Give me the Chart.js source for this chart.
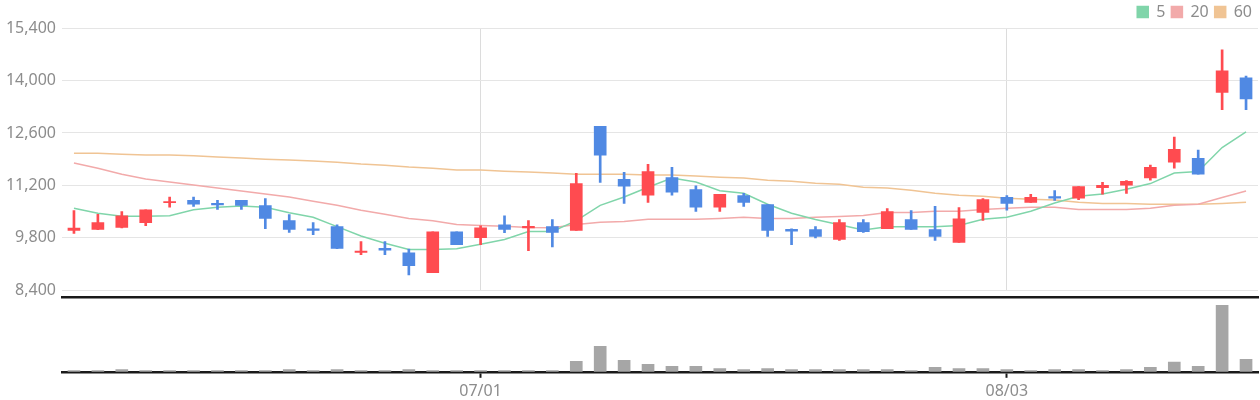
<!DOCTYPE html>
<html>
<head>
<meta charset="utf-8">
<script src="https://cdn.jsdelivr.net/npm/chart.js@4.4.1/dist/chart.umd.min.js"></script>
<style>
  body { margin: 0; background: #fff; overflow: hidden; }
  #wrap { position: relative; width: 1260px; height: 400px; overflow: hidden; }
  #price { position: absolute; left: 0; top: 0; }
  #volume { position: absolute; left: 0; top: 290px; }
</style>
</head>
<body>
<div id="wrap">
  <canvas id="price" width="1260" height="306"></canvas>
  <canvas id="volume" width="1260" height="115"></canvas>
</div>
<script>
// trading days shown on the chart (only 07/01 and 08/03 get a label)
const dates = [
  '06/08', '06/09', '06/10', '06/13', '06/14', '06/15', '06/16', '06/17', '06/20', '06/21',
  '06/22', '06/23', '06/24', '06/27', '06/28', '06/29', '06/30', '07/01', '07/04', '07/05',
  '07/06', '07/07', '07/08', '07/11', '07/12', '07/13', '07/14', '07/15', '07/18', '07/19',
  '07/20', '07/21', '07/22', '07/25', '07/26', '07/27', '07/28', '07/29', '08/02', '08/03',
  '08/04', '08/05', '08/08', '08/09', '08/10', '08/11', '08/12', '08/16', '08/17', '08/18'
];
const labelDays = ['07/01', '08/03'];

const opens = [
  10000, 10030, 10080, 10210, 10740, 10800, 10720, 10800, 10660, 10260,
  10040, 10100, 9410, 9520, 9400, 8870, 9960, 9810, 10150, 10070,
  10100, 10000, 12780, 11360, 10940, 11410, 11090, 10620, 10930, 10690,
  10030, 10020, 9760, 10210, 10050, 10290, 10020, 9680, 10480, 10880,
  10750, 10900, 10860, 11140, 11210, 11400, 11820, 11920, 13680, 14070
];
const closes = [
  10060, 10210, 10390, 10550, 10770, 10700, 10680, 10670, 10320, 10030,
  10000, 9520, 9450, 9470, 9060, 9960, 9620, 10070, 10030, 10110,
  9950, 11250, 12010, 11180, 11570, 11020, 10620, 10960, 10750, 10000,
  9980, 9840, 10210, 9970, 10500, 10030, 9840, 10310, 10820, 10720,
  10880, 10860, 11170, 11200, 11310, 11680, 12160, 11500, 14260, 13510
];
const highs = [
  10530, 10430, 10500, 10550, 10890, 10890, 10800, 10800, 10850, 10420,
  10210, 10150, 9700, 9700, 9500, 9960, 9960, 10120, 10390, 10260,
  10290, 11520, 12780, 11550, 11760, 11680, 11190, 10960, 10990, 10690,
  10040, 10100, 10290, 10290, 10580, 10530, 10640, 10610, 10850, 10930,
  10960, 11060, 11170, 11280, 11330, 11740, 12490, 12140, 14820, 14120
];
const lows = [
  9920, 10020, 10070, 10130, 10620, 10640, 10560, 10560, 10050, 9950,
  9890, 9510, 9350, 9350, 8810, 8870, 9620, 9620, 9940, 9460,
  9560, 10000, 11280, 10720, 10750, 10940, 10510, 10510, 10640, 9840,
  9620, 9800, 9730, 9950, 10050, 10030, 9730, 9680, 10270, 10540,
  10750, 10800, 10820, 10970, 10990, 11340, 11660, 11500, 13220, 13220
];

// moving averages as drawn on the chart
const ma5 = [
  10590, 10460, 10380, 10380, 10390, 10550, 10620, 10650, 10620, 10470,
  10350, 10100, 9850, 9660, 9490, 9490, 9510, 9630, 9760, 9970,
  9970, 10260, 10670, 10890, 11150, 11400, 11290, 11060, 10990, 10700,
  10460, 10290, 10150, 10010, 10100, 10100, 10100, 10130, 10300, 10350,
  10510, 10730, 10910, 10970, 11100, 11250, 11530, 11570, 12210, 12630
];
const ma20 = [
  11800, 11660, 11500, 11370, 11290, 11210, 11130, 11050, 10970, 10890,
  10780, 10670, 10540, 10430, 10320, 10260, 10160, 10130, 10110, 10080,
  10070, 10160, 10220, 10240, 10300, 10300, 10300, 10320, 10350, 10320,
  10320, 10350, 10370, 10400, 10480, 10480, 10510, 10510, 10560, 10590,
  10620, 10620, 10560, 10560, 10560, 10590, 10670, 10700, 10880, 11050
];
const ma60 = [
  12060, 12060, 12030, 12010, 12010, 11990, 11960, 11930, 11900, 11880,
  11850, 11820, 11770, 11740, 11690, 11660, 11610, 11610, 11580, 11560,
  11530, 11500, 11500, 11500, 11480, 11480, 11450, 11420, 11400, 11340,
  11310, 11260, 11230, 11150, 11130, 11070, 10990, 10940, 10910, 10860,
  10830, 10810, 10750, 10720, 10720, 10700, 10700, 10700, 10720, 10750
];

const volumes = [
  13000, 13000, 23000, 13000, 13000, 13000, 13000, 13000, 13000, 23000,
  13000, 23000, 13000, 13000, 23000, 13000, 13000, 13000, 13000, 13000,
  13000, 103000, 253000, 113000, 73000, 53000, 53000, 33000, 23000, 33000,
  23000, 23000, 23000, 23000, 23000, 13000, 43000, 33000, 33000, 23000,
  13000, 23000, 23000, 13000, 23000, 43000, 97000, 53000, 657000, 123000
];

const upColor = '#ff4b50';
const downColor = '#5089e3';
const gridColor = '#e5e5e5';
const textColor = '#8c8c8c';

Chart.defaults.font.family = "'Noto Sans', sans-serif";
Chart.defaults.font.size = 16;
Chart.defaults.color = textColor;

const candleColor = ctx => closes[ctx.dataIndex] >= opens[ctx.dataIndex] ? upColor : downColor;
const isLabelDay = i => labelDays.includes(dates[i]);

new Chart(document.getElementById('price'), {
  type: 'bar',
  data: {
    labels: dates,
    datasets: [
      {
        label: 'body',
        data: dates.map((d, i) => [opens[i], closes[i]]),
        backgroundColor: candleColor,
        barThickness: 12,
        grouped: false,
        order: 0
      },
      {
        label: 'wick',
        data: dates.map((d, i) => [lows[i], highs[i]]),
        backgroundColor: candleColor,
        barThickness: 2,
        grouped: false,
        order: 0
      },
      {
        type: 'line',
        label: '5',
        data: ma5,
        borderColor: '#80d5aa',
        backgroundColor: '#80d5aa',
        borderWidth: 1.5,
        pointRadius: 0,
        order: 1
      },
      {
        type: 'line',
        label: '20',
        data: ma20,
        borderColor: '#f2aaaa',
        backgroundColor: '#f2aaaa',
        borderWidth: 1.5,
        pointRadius: 0,
        order: 1
      },
      {
        type: 'line',
        label: '60',
        data: ma60,
        borderColor: '#f0c494',
        backgroundColor: '#f0c494',
        borderWidth: 1.5,
        pointRadius: 0,
        order: 1
      }
    ]
  },
  options: {
    responsive: false,
    animation: false,
    layout: { padding: { left: 0, right: 2, top: -2, bottom: 5 } },
    plugins: {
      tooltip: { enabled: false },
      legend: {
        position: 'top',
        align: 'end',
        maxHeight: 30,
        labels: {
          boxWidth: 11,
          boxHeight: 11,
          padding: 6,
          color: textColor,
          font: { size: 16 },
          filter: item => ['5', '20', '60'].includes(item.text)
        }
      }
    },
    scales: {
      x: {
        offset: true,
        grid: {
          offset: false,
          drawTicks: false,
          color: c => isLabelDay(c.index) ? '#dcdcdc' : 'rgba(0,0,0,0)'
        },
        ticks: { display: false, autoSkip: false },
        border: { display: false }
      },
      y: {
        min: 8400,
        max: 15400,
        ticks: { stepSize: 1400, padding: 6, color: textColor },
        grid: { color: gridColor, drawTicks: false },
        border: { display: false },
        afterFit: s => { s.width = 62; }
      }
    }
  }
});

new Chart(document.getElementById('volume'), {
  type: 'bar',
  data: {
    labels: dates,
    datasets: [{
      label: 'volume',
      data: volumes,
      backgroundColor: '#a6a6a6',
      barThickness: 12
    }]
  },
  options: {
    responsive: false,
    animation: false,
    layout: { padding: { left: 62, right: 2, top: 7, bottom: 0 } },
    plugins: { legend: { display: false }, tooltip: { enabled: false } },
    scales: {
      x: {
        offset: true,
        grid: {
          offset: false,
          drawOnChartArea: false,
          tickLength: 6,
          tickWidth: 2,
          tickColor: c => isLabelDay(c.index) ? '#1a1a1a' : 'rgba(0,0,0,0)'
        },
        border: { color: '#1a1a1a', width: 2.5 },
        ticks: {
          autoSkip: false,
          maxRotation: 0,
          padding: 4,
          color: textColor,
          callback: (v, i) => isLabelDay(i) ? dates[i] : ''
        }
      },
      xTop: {
        type: 'category',
        position: 'top',
        offset: true,
        grid: { display: false, drawTicks: false },
        ticks: { display: false },
        border: { color: '#1a1a1a', width: 2.5 }
      },
      y: {
        display: false,
        min: 0,
        max: 740000
      }
    }
  }
});
</script>
</body>
</html>
